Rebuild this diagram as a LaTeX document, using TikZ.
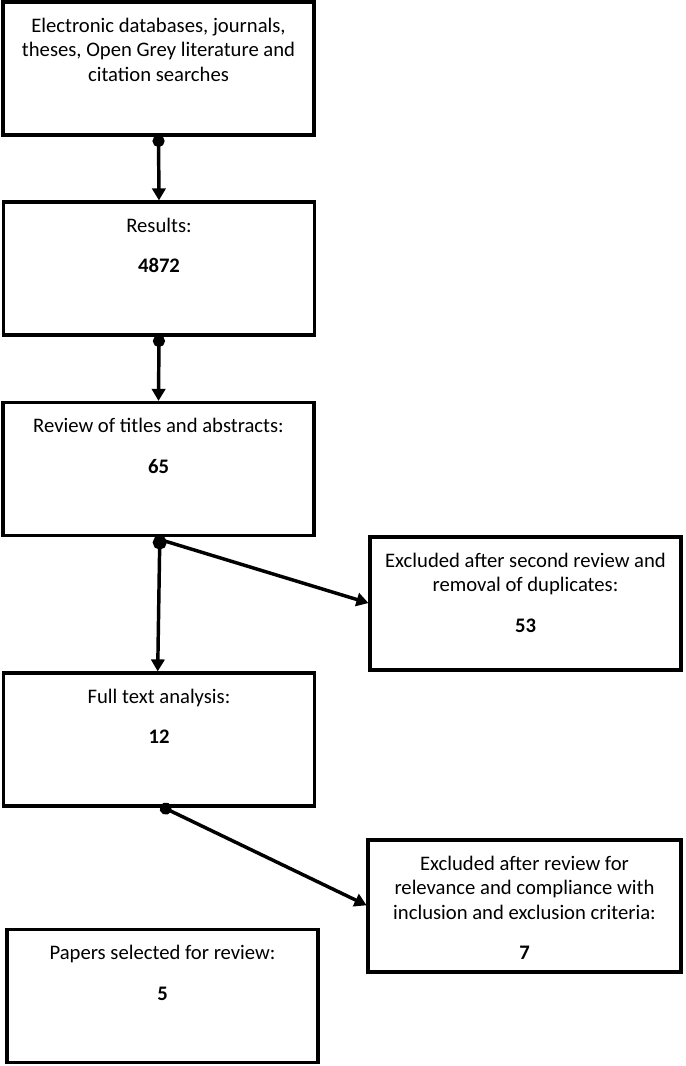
\documentclass[tikz,border=0pt]{standalone}
\usepackage{fontspec}
\setmainfont{Carlito}
\usetikzlibrary{arrows.meta,calc}
\begin{document}
\begin{tikzpicture}[x=0.75pt,y=-0.75pt,
  box/.style={draw, line width=2.6pt, rectangle, minimum width=233.25pt, minimum height=99.75pt, inner sep=0pt, outer sep=0pt},
  txt/.style={anchor=north, align=center, inner sep=0pt, font=\fontsize{15.5}{18.4}\selectfont},
  conn/.style={line width=2.6pt, shorten >=1.2pt, {Circle[length=9pt]}-{Triangle[length=9pt,width=10pt]}},
  bigconn/.style={line width=2.6pt, shorten >=1.2pt, {Circle[length=10.5pt]}-{Triangle[length=9pt,width=10pt]}},
  dconn/.style={line width=2.6pt, shorten >=1.2pt, -{Triangle[length=9pt,width=10pt]}}]
\useasboundingbox (0,0) rectangle (685,1066);
\fill[white] (0,0) rectangle (685,1066);
% boxes
\node[box] (b1) at (158.5,68.5) {};
\node[box] (b2) at (159,268.5) {};
\node[box] (b3) at (158.5,469) {};
\node[box] (b4) at (525.5,603.5) {};
\node[box] (b5) at (159,739.5) {};
\node[box, minimum width=234.75pt, minimum height=99pt] (b6) at (524.5,906) {};
\node[box] (b7) at (162.5,996) {};
% texts
\node[txt] (t1) at ([yshift=-11.6pt]b1.north) {Electronic databases, journals,\\theses, Open Grey literature and\\citation searches};
\node[txt] (t2) at ([yshift=-11.6pt]b2.north) {Results:\\[12pt]\textbf{4872}};
\node[txt] (t3) at ([yshift=-11.6pt]b3.north) {Review of titles and abstracts:\\[12pt]\textbf{65}};
\node[txt] (t4) at ([yshift=-11.6pt]b4.north) {Excluded after second review and\\removal of duplicates:\\[12pt]\textbf{53}};
\node[txt] (t5) at ([yshift=-11.6pt]b5.north) {Full text analysis:\\[12pt]\textbf{12}};
\node[txt] (t6) at ([yshift=-11.6pt]b6.north) {Excluded after review for\\relevance and compliance with\\inclusion and exclusion criteria:\\[12pt]\textbf{7}};
\node[txt] (t7) at ([yshift=-11.6pt]b7.north) {Papers selected for review:\\[12pt]\textbf{5}};
% connectors
\draw[conn] (b1.south) -- (b2.north);
\draw[conn] (b2.south) -- (b3.north);
\draw[bigconn] ([xshift=1pt]b3.south) -- ([xshift=-1pt]b5.north);
\draw[dconn] ([xshift=1pt,yshift=-3pt]b3.south) -- (b4.west);
\draw[conn] ([xshift=1pt]b5.south) -- (b6.west);
\end{tikzpicture}
\end{document}
